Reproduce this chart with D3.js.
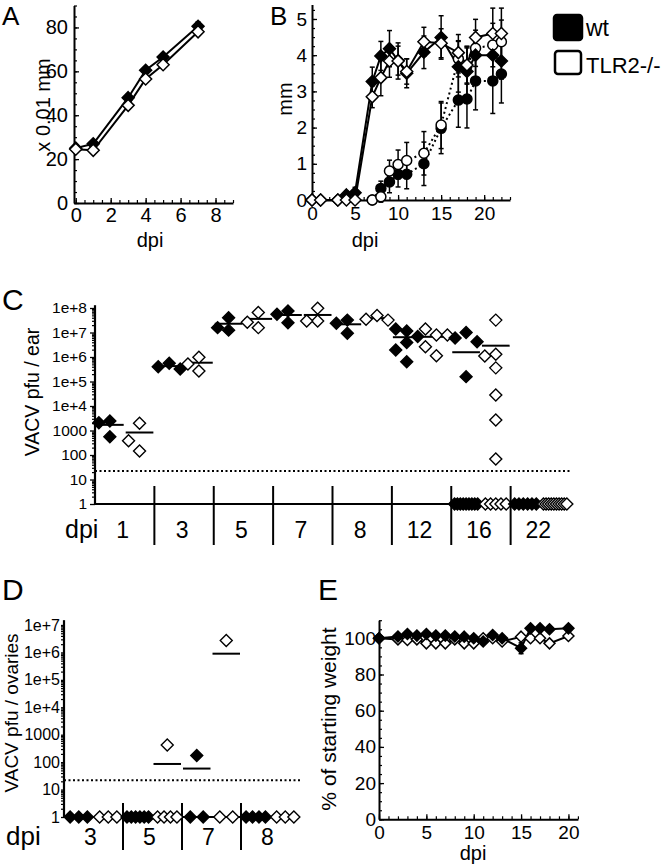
<!DOCTYPE html>
<html><head><meta charset="utf-8">
<script src="https://cdn.jsdelivr.net/npm/d3@7"></script>
<style>
body{margin:0;background:#fff}
text{font-family:"Liberation Sans",Arial,Helvetica,sans-serif;fill:#000}
</style>
</head><body>
<script>
// ---------------- DATA ----------------
// Panel A
const aDays = [0, 1, 3, 4, 5, 7];
const aWt = [25, 27, 48, 60.5, 66.5, 80.5];
const aWtErr = [1, 1, 1.5, 1.5, 1.5, 2];
const aKo = [24.5, 24, 44.5, 56.5, 63, 78];
const aKoErr = [1, 1, 1.5, 1.5, 1.5, 1.5];
const aXTicks = [0, 2, 4, 6, 8];
const aYTicks = [0, 20, 40, 60, 80];

// Panel B (diamonds: solid lines, circles: dotted lines)
const bDaysD = [0, 1, 3, 4, 5, 7, 8, 9, 10, 11, 13, 15, 17, 18, 19, 21, 22];
const bWtD = [0, 0, 0, 0.14, 0.2, 3.27, 3.98, 4.18, 3.85, 3.5, 4.08, 4.49, 3.68, 3.55, 4.0, 4.0, 3.84];
const bWtDErr = [0, 0, 0, 0.1, 0.15, 0.4, 0.4, 0.5, 0.4, 0.4, 0.45, 0.6, 0.7, 0.7, 0.6, 0.6, 0.5];
const bKoD = [0, 0, 0, 0, 0, 2.85, 3.38, 3.84, 3.84, 3.55, 4.37, 4.33, 4.07, 3.73, 4.49, 4.6, 4.6];
const bKoDErr = [0, 0, 0, 0, 0, 0.3, 0.5, 0.45, 0.5, 0.35, 0.4, 0.4, 0.5, 0.5, 0.5, 0.7, 0.7];
const bDaysC = [7, 8, 9, 10, 11, 13, 15, 17, 18, 19, 21, 22];
const bWtC = [0, 0.32, 0.5, 0.71, 0.71, 1.0, 1.98, 2.76, 2.79, 3.29, 3.29, 3.48];
const bWtCErr = [0, 0.2, 0.3, 0.35, 0.4, 0.6, 0.7, 0.75, 0.8, 0.8, 0.9, 0.8];
const bKoC = [0, 0.09, 0.8, 0.98, 1.09, 1.29, 2.07, 3.9, 3.7, 4.19, 4.28, 4.37];
const bKoCErr = [0, 0.15, 0.3, 0.4, 0.5, 0.6, 0.65, 0.5, 0.5, 0.5, 0.6, 0.6];
const bXTicks = [0, 5, 10, 15, 20];
const bYTicks = [0, 1, 2, 3, 4, 5];

// Panel C (VACV pfu / ear), value 1 = below detection
const cGroups = ["1", "3", "5", "7", "8", "12", "16", "22"];
const cWt = [
  [2450, 2090, 560],
  [5.5e5, 4e5, 3.25e5],
  [4e7, 1.58e7, 1.25e7],
  [7.5e7, 5.5e7, 2.5e7],
  [3.2e7, 2.36e7, 9.3e6],
  [1.15e7, 1.38e7, 6.8e6, 3.9e6, 1.94e6, 6.45e5],
  [1e7, 6e6, 4.2e6, 1.58e5, 1, 1, 1, 1, 1, 1, 1, 1, 1],
  [1, 1, 1, 1, 1, 1]
];
const cKo = [
  [145, 380, 1960],
  [9.7e5, 5.16e5, 2.7e5],
  [6.6e7, 2.6e7, 1.58e7],
  [9.7e7, 2.95e7, 2.95e7],
  [4.9e7, 3.45e7, 3.2e7],
  [7.9e6, 1.38e7, 7.9e6, 1.13e6, 2.6e6],
  [3.2e7, 1.29e6, 1.1e6, 3.6e5, 2.8e4, 2700, 69, 1, 1, 1, 1, 1],
  [1, 1, 1, 1, 1, 1, 1, 1, 1, 1]
];
const cLimit = 22;

// Panel D (VACV pfu / ovaries)
const dGroups = ["3", "5", "7", "8"];
const dWt = [[1, 1, 1], [1, 1, 1, 1, 1, 1], [173, 1, 1], [1, 1, 1, 1]];
const dKo = [[1, 1, 1], [425, 1, 1, 1, 1], [2.7e6, 1, 1], [1, 1, 1]];
const dLimit = 22;

// Panel E (% of starting weight)
const eDays = [0, 2, 3, 4, 5, 6, 7, 8, 9, 10, 11, 12, 13, 15, 16, 17, 18, 20];
const eWt = [100, 101, 102.4, 101.5, 102.4, 101.5, 101.5, 101, 100.9, 100, 98.2, 101.8, 100, 94.5, 105.5, 105.5, 105, 105.5];
const eWtErr = [0, 1.5, 1.5, 1.2, 1.5, 1.2, 1.2, 1.2, 1.5, 1.5, 1.5, 1.5, 1.2, 3, 1.5, 1.5, 1.5, 1.5];
const eKo = [100, 99.4, 99.1, 99.4, 97.2, 97.2, 97.2, 99.4, 97.2, 97.2, 100, 100, 98.2, 100.9, 100, 100, 97.2, 101.3];
const eKoErr = [0, 1, 1, 1, 1, 1, 1, 1, 1, 1, 1, 1, 1, 1, 1, 1, 1, 1];
const eXTicks = [0, 5, 10, 15, 20];
const eYTicks = [0, 20, 40, 60, 80, 100];

// ---------------- HELPERS ----------------
const svg = d3.select("body").append("svg").attr("width", 666).attr("height", 868);
const diamondPath = r => `M0,${-r}L${r},0L0,${r}L${-r},0Z`;
const intFmt = d3.format("d");

function styleAxis(sel, fs, dw) {
  sel.select(".domain").attr("stroke", "#000").attr("stroke-width", dw || 2);
  sel.selectAll(".tick line").attr("stroke", "#000").attr("stroke-width", 1.3);
  sel.selectAll(".tick text").attr("font-size", fs).attr("fill", "#000")
     .style("font-family", '"Liberation Sans",Arial,sans-serif');
}

function linearAxes(g, x, y, o) {
  const [x0] = x.range(), [y0] = y.range();
  g.append("g").attr("transform", `translate(0,${y0})`)
    .call(d3.axisBottom(x).tickValues(o.xMinor).tickSize(-3).tickFormat("").tickSizeOuter(0))
    .call(s => { s.select(".domain").remove(); s.selectAll("line").attr("stroke", "#000").attr("stroke-width", 1.2); });
  g.append("g").attr("transform", `translate(${x0},0)`)
    .call(d3.axisLeft(y).tickValues(o.yMinor).tickSize(-3).tickFormat("").tickSizeOuter(0))
    .call(s => { s.select(".domain").remove(); s.selectAll("line").attr("stroke", "#000").attr("stroke-width", 1.2); });
  g.append("g").attr("transform", `translate(0,${y0})`)
    .call(d3.axisBottom(x).tickValues(o.xMajor).tickFormat(intFmt).tickSize(-5).tickPadding(o.xPad).tickSizeOuter(0))
    .call(s => styleAxis(s, o.fs));
  g.append("g").attr("transform", `translate(${x0},0)`)
    .call(d3.axisLeft(y).tickValues(o.yMajor).tickFormat(intFmt).tickSize(-5).tickPadding(o.yPad).tickSizeOuter(0))
    .call(s => styleAxis(s, o.fs));
}

function makePts(days, vals, errs) {
  return days.map((d, i) => ({ d, v: vals[i], e: errs ? errs[i] : 0 }));
}
function drawLine(g, x, y, pts, dash) {
  g.append("path").datum(pts).attr("fill", "none").attr("stroke", "#000")
    .attr("stroke-width", 2).attr("stroke-dasharray", dash || null)
    .attr("d", d3.line().x(p => x(p.d)).y(p => y(p.v)));
}
function drawErr(g, x, y, pts) {
  const eb = g.append("g").attr("stroke", "#000").attr("stroke-width", 1.5);
  pts.filter(p => p.e > 0).forEach(p => {
    const cx = x(p.d), ya = y(p.v - p.e), yb = y(p.v + p.e);
    eb.append("line").attr("x1", cx).attr("x2", cx).attr("y1", ya).attr("y2", yb);
    eb.append("line").attr("x1", cx - 2.5).attr("x2", cx + 2.5).attr("y1", ya).attr("y2", ya);
    eb.append("line").attr("x1", cx - 2.5).attr("x2", cx + 2.5).attr("y1", yb).attr("y2", yb);
  });
}
function drawMarks(g, x, y, pts, filled, shape, r) {
  const d = shape === "circle" ? d3.symbol(d3.symbolCircle, Math.PI * r * r)() : diamondPath(r);
  g.selectAll(null).data(pts).join("path")
    .attr("transform", p => `translate(${x(p.d)},${y(p.v)})`)
    .attr("d", d).attr("fill", filled ? "#000" : "#fff")
    .attr("stroke", "#000").attr("stroke-width", 1.5);
}
function rotLabel(text, bx, cy, fs) {
  svg.append("text").attr("transform", `translate(${bx},${cy}) rotate(-90)`)
    .attr("text-anchor", "middle").attr("font-size", fs).text(text);
}
function label(text, x, y, fs, anchor) {
  svg.append("text").attr("x", x).attr("y", y).attr("font-size", fs)
    .attr("text-anchor", anchor || "start").text(text);
}

// ---------------- PANEL A ----------------
{
  const g = svg.append("g");
  const x = d3.scaleLinear().domain([-0.1, 9]).range([74, 233]);
  const y = d3.scaleLinear().domain([0, 90]).range([203, 5.5]);
  linearAxes(g, x, y, { xMajor: aXTicks, xMinor: d3.range(0, 9.01, 0.5), yMajor: aYTicks,
    yMinor: d3.range(0, 90.1, 5), fs: 20, xPad: 5, yPad: 6 });
  const wt = makePts(aDays, aWt, aWtErr), ko = makePts(aDays, aKo, aKoErr);
  drawLine(g, x, y, wt); drawLine(g, x, y, ko);
  drawErr(g, x, y, wt); drawErr(g, x, y, ko);
  drawMarks(g, x, y, wt, true, "diamond", 6);
  drawMarks(g, x, y, ko, false, "diamond", 6);
  label("A", 2, 25, 26);
  rotLabel("x 0.01 mm", 50, 105, 20);
  label("dpi", 150, 247, 20, "middle");
}

// ---------------- PANEL B ----------------
{
  const g = svg.append("g");
  const x = d3.scaleLinear().domain([0, 23]).range([312, 510]);
  const y = d3.scaleLinear().domain([0, 5.4]).range([200, 4.5]);
  linearAxes(g, x, y, { xMajor: bXTicks, xMinor: d3.range(0, 23.01, 1), yMajor: bYTicks,
    yMinor: d3.range(0, 5.41, 0.25), fs: 19, xPad: 7, yPad: 5 });
  const wD = makePts(bDaysD, bWtD, bWtDErr), kD = makePts(bDaysD, bKoD, bKoDErr);
  const wC = makePts(bDaysC, bWtC, bWtCErr), kC = makePts(bDaysC, bKoC, bKoCErr);
  drawLine(g, x, y, wC, "2,3"); drawLine(g, x, y, kC, "2,3");
  drawLine(g, x, y, wD); drawLine(g, x, y, kD);
  [wC, kC, wD, kD].forEach(p => drawErr(g, x, y, p));
  drawMarks(g, x, y, wC, true, "circle", 5);
  drawMarks(g, x, y, kC, false, "circle", 5);
  drawMarks(g, x, y, wD, true, "diamond", 6);
  drawMarks(g, x, y, kD, false, "diamond", 6);
  label("B", 270, 25, 26);
  rotLabel("mm", 292, 99, 20);
  label("dpi", 365, 247, 20, "middle");
}

// ---------------- LEGEND ----------------
svg.append("rect").attr("x", 554).attr("y", 15).attr("width", 28).attr("height", 25).attr("rx", 3)
  .attr("fill", "#000").attr("stroke", "#000").attr("stroke-width", 2.5);
svg.append("rect").attr("x", 555).attr("y", 51).attr("width", 26).attr("height", 23).attr("rx", 3)
  .attr("fill", "#fff").attr("stroke", "#000").attr("stroke-width", 2.5);
label("wt", 586, 36, 23);
label("TLR2-/-", 586, 73, 22);

// ---------------- DOT PLOT (C, D) ----------------
function dotPlot(groups, wtVals, koVals, xb, y, limit, o) {
  const g = svg.append("g");
  const bw = xb.bandwidth(), s = bw * 0.185, T = 11;
  const [x0, x1] = xb.range(), y0 = y(1);
  const majors = d3.range(0, o.maxExp + 1).map(k => Math.pow(10, k));
  const minors = [];
  d3.range(0, o.maxExp).forEach(k => d3.range(2, 10).forEach(m => minors.push(m * Math.pow(10, k))));
  g.append("g").attr("transform", `translate(${x0},0)`)
    .call(d3.axisLeft(y).tickValues(minors).tickSize(3).tickFormat("").tickSizeOuter(0))
    .call(sel => { sel.select(".domain").remove(); sel.selectAll("line").attr("stroke", "#000").attr("stroke-width", 1.2); });
  g.append("g").attr("transform", `translate(${x0},0)`)
    .call(d3.axisLeft(y).tickValues(majors).tickSize(o.tick).tickPadding(o.pad).tickSizeOuter(0)
      .tickFormat(v => { const k = Math.round(Math.log10(v)); return k <= 3 ? String(v) : "1e+" + k; }))
    .call(sel => { styleAxis(sel, o.fs); sel.select(".domain").remove(); });
  g.append("line").attr("x1", x0).attr("x2", x0).attr("y1", y0).attr("y2", y(o.top))
    .attr("stroke", "#000").attr("stroke-width", 2.2);
  g.append("line").attr("x1", x0).attr("x2", x1).attr("y1", y0).attr("y2", y0)
    .attr("stroke", "#000").attr("stroke-width", 2);
  g.append("line").attr("x1", x0).attr("x2", x1).attr("y1", y(limit)).attr("y2", y(limit))
    .attr("stroke", "#000").attr("stroke-width", 2).attr("stroke-dasharray", "2,2.5");
  groups.forEach((grp, i) => {
    if (i > 0) g.append("line").attr("x1", xb(grp)).attr("x2", xb(grp))
      .attr("y1", o.divTop).attr("y2", o.divBot).attr("stroke", "#000").attr("stroke-width", 2);
    g.append("text").attr("x", xb(grp) + bw / 2 + o.labShift).attr("y", o.labY)
      .attr("text-anchor", "middle").attr("font-size", o.labFs).text(grp);
  });
  const meanG = g.append("g"), ptG = g.append("g");
  groups.forEach((grp, gi) => {
    [[wtVals[gi], true, 0.25], [koVals[gi], false, 0.75]].forEach(([vals, filled, f]) => {
      const c = xb(grp) + bw * f;
      const placed = [];
      const above = vals.filter(v => v > 1), base = vals.filter(v => v <= 1);
      const cols = [0, -1, 1, -2, 2];
      above.forEach(v => {
        const yy = y(v);
        const k = cols.find(k => !placed.some(p => p.k === k && Math.abs(p.y - yy) < T));
        placed.push({ k, y: yy, x: c + k * s });
      });
      const sp = Math.min(13, 26 / Math.max(base.length, 1)) * bw / 59.4;
      base.forEach((v, i) => placed.push({ k: null, y: y(v), x: c + (i - (base.length - 1) / 2) * sp }));
      const m = d3.mean(vals);
      meanG.append("line").attr("x1", xb(grp) + bw * (f - 0.25) + 1).attr("x2", xb(grp) + bw * (f + 0.25) - 1)
        .attr("y1", y(m)).attr("y2", y(m)).attr("stroke", "#000").attr("stroke-width", 2);
      placed.forEach(p => ptG.append("path").attr("transform", `translate(${p.x},${p.y})`)
        .attr("d", diamondPath(o.r)).attr("fill", filled ? "#000" : "#fff")
        .attr("stroke", "#000").attr("stroke-width", 1.4));
    });
  });
}

// ---------------- PANEL C ----------------
{
  const xb = d3.scaleBand().domain(cGroups).range([95, 570]);
  const y = d3.scaleLog().domain([1, 1e8]).range([504, 308]);
  dotPlot(cGroups, cWt, cKo, xb, y, cLimit, { maxExp: 8, top: 1.3e8, tick: 5, pad: 3, fs: 15.5,
    divTop: 486, divBot: 545, labY: 538, labFs: 23, labShift: -2, r: 6 });
  label("C", 2, 310, 30);
  rotLabel("VACV pfu / ear", 39, 392, 19.5);
  label("dpi", 65, 538, 25);
}

// ---------------- PANEL D ----------------
{
  const xb = d3.scaleBand().domain(dGroups).range([64, 300]);
  const y = d3.scaleLog().domain([1, 1e7]).range([817, 625]);
  dotPlot(dGroups, dWt, dKo, xb, y, dLimit, { maxExp: 7, top: 1.5e7, tick: 3, pad: 1, fs: 16,
    divTop: 803, divBot: 850, labY: 845, labFs: 23, labShift: -3, r: 6 });
  label("D", 2, 600, 30);
  rotLabel("VACV pfu / ovaries", 18, 713, 19);
  label("dpi", 6, 845, 26);
}

// ---------------- PANEL E ----------------
{
  const g = svg.append("g");
  const x = d3.scaleLinear().domain([0, 21]).range([379, 577.9]);
  const y = d3.scaleLinear().domain([0, 110]).range([819.3, 620.2]);
  linearAxes(g, x, y, { xMajor: eXTicks, xMinor: d3.range(0, 21.01, 1), yMajor: eYTicks,
    yMinor: d3.range(0, 110.1, 5), fs: 19, xPad: 6, yPad: 3 });
  const wt = makePts(eDays, eWt, eWtErr), ko = makePts(eDays, eKo, eKoErr);
  drawLine(g, x, y, ko); drawLine(g, x, y, wt);
  drawErr(g, x, y, wt); drawErr(g, x, y, ko);
  drawMarks(g, x, y, ko, false, "diamond", 5.5);
  drawMarks(g, x, y, wt, true, "diamond", 5.5);
  label("E", 318, 600, 30);
  rotLabel("% of starting weight", 336, 719, 21);
  label("dpi", 473, 860, 20, "middle");
}
</script>
</body></html>
